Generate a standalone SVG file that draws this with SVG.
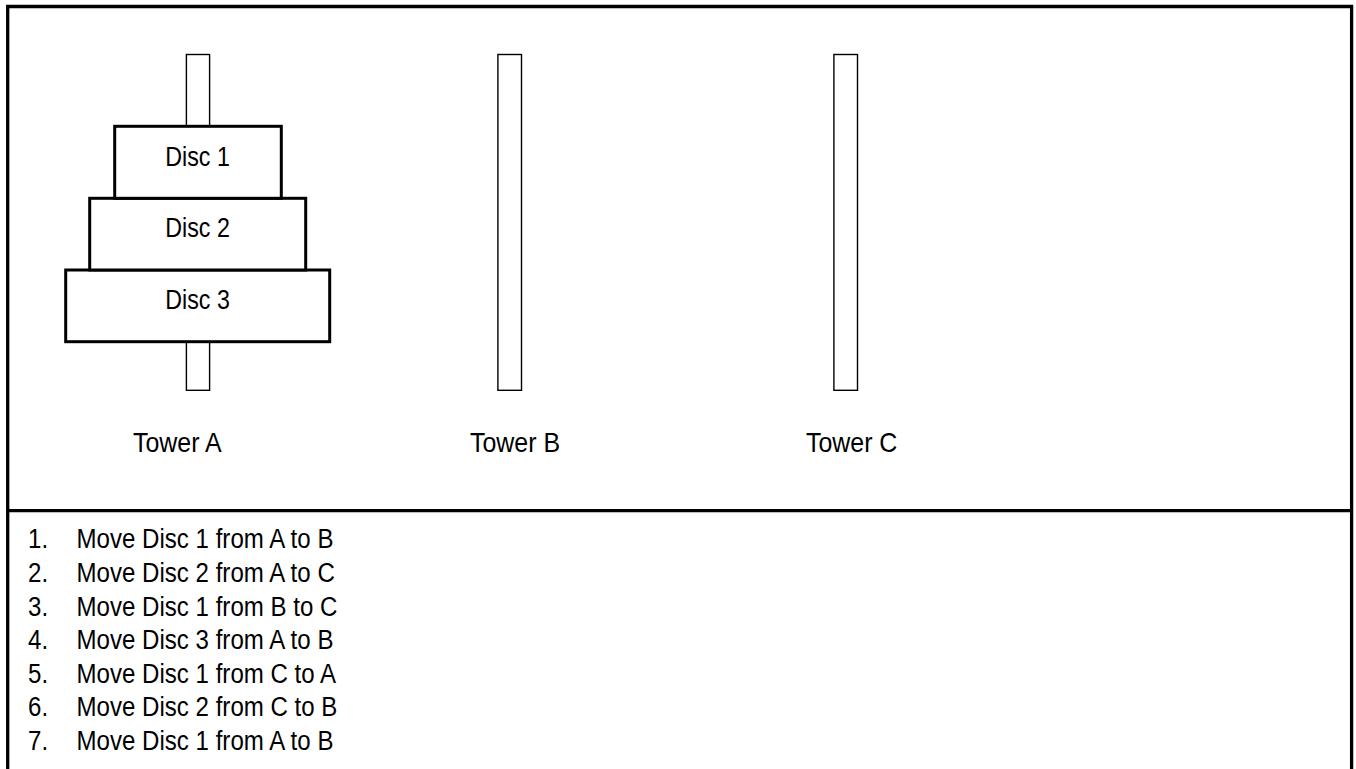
<svg xmlns="http://www.w3.org/2000/svg" width="1356" height="769" viewBox="0 0 1356 769">
<style>
.frame{fill:none;stroke:#000;stroke-width:3.3}
.peg{fill:#fff;stroke:#000;stroke-width:1.4}
.disc{fill:#fff;stroke:#000;stroke-width:3}
.t{font-family:"Liberation Sans",Arial,sans-serif;font-size:28px;fill:#000}
.c{text-anchor:middle}
</style>
<rect width="1356" height="769" fill="#fff"/>
<g id="frame">
<path class="frame" d="M7.7,775 V6.5 H1351.6 V775"/>
<line class="frame" x1="7.7" y1="510.6" x2="1351.6" y2="510.6"/>
</g>
<g id="towerA">
<rect class="peg" x="186.4" y="54.5" width="23.2" height="335.8"/>
<text class="t" transform="scale(0.89,1)" x="149.4" y="451.7">Tower A</text>
</g>
<g id="towerB">
<rect class="peg" x="497.9" y="54.5" width="23.6" height="335.8"/>
<text class="t" transform="scale(0.89,1)" x="528.1" y="451.7">Tower B</text>
</g>
<g id="towerC">
<rect class="peg" x="833.9" y="54.5" width="23.6" height="335.8"/>
<text class="t" transform="scale(0.89,1)" x="905.6" y="451.7">Tower C</text>
</g>
<g id="disc3">
<rect class="disc" x="65.7" y="270" width="264" height="71.7"/>
<text class="t c" transform="scale(0.83,1)" x="238" y="309">Disc 3</text>
</g>
<g id="disc2">
<rect class="disc" x="89.7" y="198.3" width="216" height="71.7"/>
<text class="t c" transform="scale(0.83,1)" x="238" y="237.3">Disc 2</text>
</g>
<g id="disc1">
<rect class="disc" x="114.7" y="126.3" width="166.6" height="72"/>
<text class="t c" transform="scale(0.83,1)" x="238" y="166">Disc 1</text>
</g>
<g id="connectors"></g>
<g id="steps" transform="scale(0.86,1)">
<text class="t" x="32.6" y="548.5">1.</text><text class="t" x="89" y="548.5">Move Disc 1 from A to B</text>
<text class="t" x="32.6" y="582.1">2.</text><text class="t" x="89" y="582.1">Move Disc 2 from A to C</text>
<text class="t" x="32.6" y="615.7">3.</text><text class="t" x="89" y="615.7">Move Disc 1 from B to C</text>
<text class="t" x="32.6" y="649.3">4.</text><text class="t" x="89" y="649.3">Move Disc 3 from A to B</text>
<text class="t" x="32.6" y="682.9">5.</text><text class="t" x="89" y="682.9">Move Disc 1 from C to A</text>
<text class="t" x="32.6" y="716.5">6.</text><text class="t" x="89" y="716.5">Move Disc 2 from C to B</text>
<text class="t" x="32.6" y="750.1">7.</text><text class="t" x="89" y="750.1">Move Disc 1 from A to B</text>
</g>
</svg>
